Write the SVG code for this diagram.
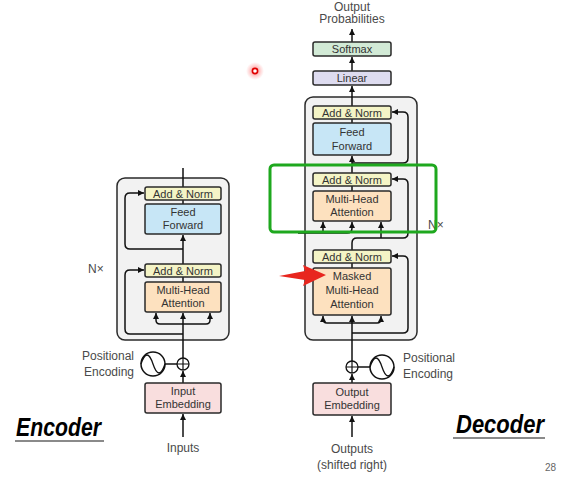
<svg xmlns="http://www.w3.org/2000/svg" width="562" height="480" viewBox="0 0 562 480">
<defs>
<style>
.bg{fill:#f2f2f2;stroke:#2a2a2a;stroke-width:1.5}
.b{stroke:#2a2a2a;stroke-width:1.5}
.an{fill:#f4f4c6}
.ff{fill:#c7e6f6}
.mha{fill:#fde1bf}
.emb{fill:#f9dede}
.lin{fill:#dedcf0}
.sm{fill:#d2ead6}
.t{font-family:"Liberation Sans",Arial,sans-serif;font-size:11px;fill:#333;text-anchor:middle}
.l{font-family:"Liberation Sans",Arial,sans-serif;font-size:12px;fill:#4a4a4a}
.ln{fill:none;stroke:#111;stroke-width:1.5}
.ttl{font-family:"Liberation Sans",Arial,sans-serif;font-size:25px;font-weight:bold;font-style:italic;fill:#000}
</style>
<marker id="ah" markerUnits="userSpaceOnUse" markerWidth="7" markerHeight="7" refX="6" refY="3.5" orient="auto">
<path d="M0,0.5 L6,3.5 L0,6.5 z" fill="#111"/>
</marker>
<radialGradient id="glow">
<stop offset="0" stop-color="#ff2020" stop-opacity="0.6"/>
<stop offset="1" stop-color="#ff6060" stop-opacity="0"/>
</radialGradient>
</defs>

<rect width="562" height="480" fill="#fff"/>

<!-- block backgrounds -->
<g id="encoder-block"><rect class="bg" x="117" y="178" width="112" height="162" rx="8"/></g>
<g id="decoder-block"><rect class="bg" x="305" y="97" width="112" height="243" rx="8"/></g>

<!-- connectors -->
<g id="connectors">
<!-- encoder -->
<path class="ln" d="M183,437 V414" marker-end="url(#ah)"/>
<path class="ln" d="M183,383 V371" marker-end="url(#ah)"/>
<path class="ln" d="M183,358 V313" marker-end="url(#ah)"/>
<path class="ln" d="M160,324 Q156,324 156,320 V313" marker-end="url(#ah)"/>
<path class="ln" d="M206,324 Q210,324 210,320 V313" marker-end="url(#ah)"/>
<path class="ln" d="M160,324 H206"/>
<path class="ln" d="M183,334 H130 Q125,334 125,329 V275 Q125,270 130,270 H144" marker-end="url(#ah)"/>
<path class="ln" d="M183,282 V277"/>
<path class="ln" d="M183,264 V235" marker-end="url(#ah)"/>
<path class="ln" d="M183,249 H130 Q125,249 125,244 V198 Q125,193 130,193 H144" marker-end="url(#ah)"/>
<path class="ln" d="M183,204 V200"/>
<path class="ln" d="M183,187 V168"/>
<path class="ln" d="M165,364 H177"/>
<!-- decoder -->
<path class="ln" d="M352,437 V416" marker-end="url(#ah)"/>
<path class="ln" d="M352,383 V374" marker-end="url(#ah)"/>
<path class="ln" d="M352,361 V316" marker-end="url(#ah)"/>
<path class="ln" d="M327,323 Q323,323 323,319 V316" marker-end="url(#ah)"/>
<path class="ln" d="M377,323 Q381,323 381,319 V316" marker-end="url(#ah)"/>
<path class="ln" d="M327,323 H377"/>
<path class="ln" d="M352,333 H403 Q408,333 408,328 V261 Q408,256 403,256 H392" marker-end="url(#ah)"/>
<path class="ln" d="M352,268 V263"/>
<path class="ln" d="M352,250 V243 Q352,238 357,238 H403 Q408,238 408,233 V184 Q408,179 403,179 H392" marker-end="url(#ah)"/>
<path class="ln" d="M381,238 V222" marker-end="url(#ah)"/>
<path class="ln" d="M298,233 H347 Q352,233 352,228 V222" marker-end="url(#ah)"/>
<path class="ln" d="M323,233 V222" marker-end="url(#ah)"/>
<path class="ln" d="M352,191 V186"/>
<path class="ln" d="M352,173 V156" marker-end="url(#ah)"/>
<path class="ln" d="M352,163 H403 Q408,163 408,158 V117 Q408,112 403,112 H392" marker-end="url(#ah)"/>
<path class="ln" d="M352,123 V119"/>
<path class="ln" d="M352,106 V86" marker-end="url(#ah)"/>
<path class="ln" d="M352,71 V57" marker-end="url(#ah)"/>
<path class="ln" d="M352,42 V29" marker-end="url(#ah)"/>
<path class="ln" d="M358,367 H370"/>
</g>

<!-- encoder nodes -->
<g id="enc-addnorm2"><rect class="b an" x="145" y="187" width="76" height="13" rx="2"/><text class="t" x="183" y="197.5">Add &amp; Norm</text></g>
<g id="enc-ff"><rect class="b ff" x="145" y="204" width="76" height="30" rx="2"/><text class="t" x="183" y="216">Feed</text><text class="t" x="183" y="229">Forward</text></g>
<g id="enc-addnorm1"><rect class="b an" x="145" y="264" width="76" height="13" rx="2"/><text class="t" x="183" y="274.5">Add &amp; Norm</text></g>
<g id="enc-mha"><rect class="b mha" x="145" y="282" width="76" height="30" rx="2"/><text class="t" x="183" y="294">Multi-Head</text><text class="t" x="183" y="307">Attention</text></g>
<g id="enc-emb"><rect class="b emb" x="145" y="383" width="76" height="30" rx="2"/><text class="t" x="183" y="395">Input</text><text class="t" x="183" y="408">Embedding</text></g>
<g id="enc-pe">
<circle cx="153" cy="364" r="12" fill="#fff" stroke="#111" stroke-width="1.5"/>
<path d="M141,364 C145,352 149,352 153,364 C157,376 161,376 165,364" fill="none" stroke="#111" stroke-width="1.3"/>
<circle cx="183" cy="364" r="6" fill="#fff" stroke="#111" stroke-width="1.3"/>
<path d="M177,364 H189 M183,358 V370" stroke="#111" stroke-width="1.2"/>
<text class="l" x="134" y="360" text-anchor="end">Positional</text>
<text class="l" x="134" y="376" text-anchor="end">Encoding</text>
</g>
<g id="enc-input"><text class="l" x="183" y="452" text-anchor="middle">Inputs</text></g>
<g id="enc-nx"><text class="l" x="88" y="273">N×</text></g>

<!-- decoder nodes -->
<g id="dec-addnorm3"><rect class="b an" x="313" y="106" width="78" height="13" rx="2"/><text class="t" x="352" y="116.5">Add &amp; Norm</text></g>
<g id="dec-ff"><rect class="b ff" x="313" y="123" width="78" height="32" rx="2"/><text class="t" x="352" y="136">Feed</text><text class="t" x="352" y="150">Forward</text></g>
<g id="dec-addnorm2"><rect class="b an" x="313" y="173" width="78" height="13" rx="2"/><text class="t" x="352" y="183.5">Add &amp; Norm</text></g>
<g id="dec-mha"><rect class="b mha" x="313" y="191" width="78" height="30" rx="2"/><text class="t" x="352" y="203">Multi-Head</text><text class="t" x="352" y="216">Attention</text></g>
<g id="dec-addnorm1"><rect class="b an" x="313" y="250" width="78" height="13" rx="2"/><text class="t" x="352" y="260.5">Add &amp; Norm</text></g>
<g id="dec-mmha"><rect class="b mha" x="313" y="268" width="78" height="47" rx="2"/><text class="t" x="352" y="280">Masked</text><text class="t" x="352" y="294">Multi-Head</text><text class="t" x="352" y="308">Attention</text></g>
<g id="dec-emb"><rect class="b emb" x="313" y="383" width="78" height="32" rx="2"/><text class="t" x="352" y="396">Output</text><text class="t" x="352" y="409">Embedding</text></g>
<g id="dec-linear"><rect class="b lin" x="313" y="71" width="78" height="14" rx="2"/><text class="t" x="352" y="82">Linear</text></g>
<g id="dec-softmax"><rect class="b sm" x="313" y="42" width="78" height="14" rx="2"/><text class="t" x="352" y="53">Softmax</text></g>
<g id="dec-pe">
<circle cx="382" cy="367" r="12" fill="#fff" stroke="#111" stroke-width="1.5"/>
<path d="M370,367 C374,355 378,355 382,367 C386,379 390,379 394,367" fill="none" stroke="#111" stroke-width="1.3"/>
<circle cx="352" cy="367" r="6" fill="#fff" stroke="#111" stroke-width="1.3"/>
<path d="M346,367 H358 M352,361 V373" stroke="#111" stroke-width="1.2"/>
<text class="l" x="403" y="362">Positional</text>
<text class="l" x="403" y="378">Encoding</text>
</g>
<g id="dec-output"><text class="l" x="352" y="10.5" text-anchor="middle" font-size="12.5">Output</text><text class="l" x="352" y="23" text-anchor="middle" font-size="12.5">Probabilities</text></g>
<g id="dec-input"><text class="l" x="352" y="453" text-anchor="middle">Outputs</text><text class="l" x="352" y="469" text-anchor="middle">(shifted right)</text></g>
<g id="dec-nx"><text class="l" x="428" y="229">N×</text></g>

<!-- annotations -->
<g id="highlight"><rect x="270" y="165" width="166" height="67" rx="4" fill="none" stroke="#1ea81e" stroke-width="3"/></g>
<g id="red-arrow"><polygon points="279,276 305,271 303,265 326,275 303,286 305,280" fill="#e8261e"/></g>
<g id="pointer"><circle cx="255" cy="71" r="9" fill="url(#glow)"/><circle cx="255" cy="71" r="2.6" fill="#fff" stroke="#e00000" stroke-width="1.6"/></g>
<g id="titles">
<text class="ttl" x="16" y="436" textLength="85" lengthAdjust="spacingAndGlyphs">Encoder</text>
<line x1="15" y1="441" x2="104" y2="441" stroke="#8a8a8a" stroke-width="2"/>
<text class="ttl" x="456" y="433" textLength="88" lengthAdjust="spacingAndGlyphs">Decoder</text>
<line x1="453" y1="438" x2="545" y2="438" stroke="#8a8a8a" stroke-width="2"/>
<text x="545" y="471" font-family="'Liberation Sans',Arial,sans-serif" font-size="10" fill="#666">28</text>
</g>
</svg>
